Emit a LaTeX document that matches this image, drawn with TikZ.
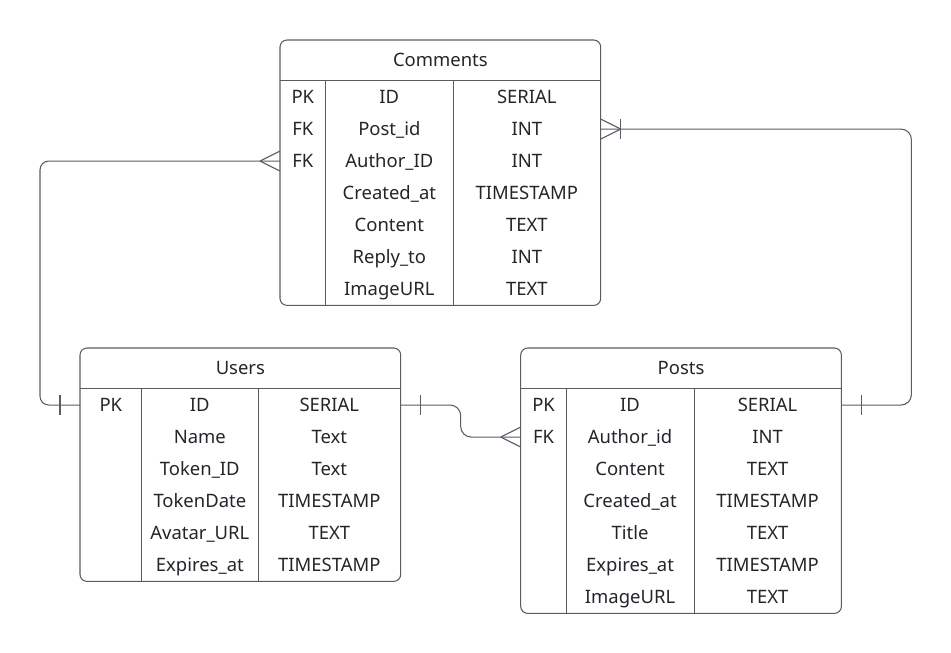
\documentclass[tikz,border=0pt]{standalone}
\usepackage{fontspec}
\setmainfont{Noto Sans}
\usetikzlibrary{positioning}
\usetikzlibrary{matrix}

\definecolor{linegray}{RGB}{88,92,99}
\definecolor{inkgray}{RGB}{34,37,42}

\begin{document}
\begin{tikzpicture}[
			entidad/.style={
				rectangle,
				minimum width=6.4cm,
				minimum height=0.8cm,
				inner sep=0pt,
				text height=7.5pt,
				text depth=0pt,
				text=inkgray,
				font=\fontsize{10.5}{12}\selectfont
			},
			campos/.style={
				matrix of nodes,
				nodes in empty cells,
				inner sep=0pt,
				row sep=0pt,
				column sep=0pt,
				nodes={
					rectangle,
					minimum height=0.64cm,
					inner sep=0pt,
					text height=7.5pt,
					text depth=0pt,
					anchor=center,
					text=inkgray,
					font=\fontsize{10.5}{12}\selectfont
				}
			},
			marco/.style={draw=linegray, line width=0.6pt, rounded corners=4pt},
			link/.style={draw=linegray, line width=0.6pt},
			crowfoot/.pic={\draw[link] (-0.4,0) -- (0,0.2) (-0.4,0) -- (0,-0.2);},
			onebar/.pic={\draw[link] (-0.4,-0.2) -- (-0.4,0.2);}
			]
			\useasboundingbox (0,0) rectangle (19.02,-13.04);
			
			% Tabla Comments
			\node[entidad, anchor=north west] (comments) at (5.6,-0.8) {Comments};
			\matrix[campos, below=0cm of comments,
				column 1/.style={nodes={minimum width=0.9cm}},
				column 2/.style={nodes={minimum width=2.56cm}},
				column 3/.style={nodes={minimum width=2.94cm}}] (ctab) {
				PK & ID & SERIAL \\
				FK & Post\_id & INT \\
				FK & Author\_ID & INT \\
				 & Created\_at & TIMESTAMP \\
				 & Content & TEXT \\
				 & Reply\_to & INT \\
				 & ImageURL & TEXT \\
			};
			
			% Tabla Users
			\node[entidad, anchor=north west] (users) at (1.6,-6.96) {Users};
			\matrix[campos, below=0cm of users,
				column 1/.style={nodes={minimum width=1.22cm}},
				column 2/.style={nodes={minimum width=2.34cm}},
				column 3/.style={nodes={minimum width=2.84cm}}] (utab) {
				PK & ID & SERIAL \\
				 & Name & Text \\
				 & Token\_ID & Text \\
				 & TokenDate & TIMESTAMP \\
				 & Avatar\_URL & TEXT \\
				 & Expires\_at & TIMESTAMP \\
			};
			
			% Tabla Posts
			\node[entidad, right=2.4cm of users] (posts) {Posts};
			\matrix[campos, below=0cm of posts,
				column 1/.style={nodes={minimum width=0.9cm}},
				column 2/.style={nodes={minimum width=2.56cm}},
				column 3/.style={nodes={minimum width=2.94cm}}] (ptab) {
				PK & ID & SERIAL \\
				FK & Author\_id & INT \\
				 & Content & TEXT \\
				 & Created\_at & TIMESTAMP \\
				 & Title & TEXT \\
				 & Expires\_at & TIMESTAMP \\
				 & ImageURL & TEXT \\
			};
			
			% Marcos y divisiones
			\draw[marco] (comments.north west) rectangle (ctab.south east);
			\draw[link] (comments.south west) -- (comments.south east);
			\draw[link] (ctab-1-1.north east) -- (ctab-7-1.south east);
			\draw[link] (ctab-1-2.north east) -- (ctab-7-2.south east);
			
			\draw[marco] (users.north west) rectangle (utab.south east);
			\draw[link] (users.south west) -- (users.south east);
			\draw[link] (utab-1-1.north east) -- (utab-6-1.south east);
			\draw[link] (utab-1-2.north east) -- (utab-6-2.south east);
			
			\draw[marco] (posts.north west) rectangle (ptab.south east);
			\draw[link] (posts.south west) -- (posts.south east);
			\draw[link] (ptab-1-1.north east) -- (ptab-7-1.south east);
			\draw[link] (ptab-1-2.north east) -- (ptab-7-2.south east);
			
			% Relaciones
			\draw[link, rounded corners=5pt] (utab-1-1.west) -- ++(-0.8,0) |- (ctab-3-1.west);
			\pic at (utab-1-1.west) {onebar};
			\pic at (ctab-3-1.west) {crowfoot};
			
			\draw[link, rounded corners=6pt] (utab-1-3.east) -- ++(1.2,0) |- (ptab-2-1.west);
			\pic[rotate=180] at (utab-1-3.east) {onebar};
			\pic at (ptab-2-1.west) {crowfoot};
			
			\draw[link, rounded corners=6pt] (ptab-1-3.east) -- ++(1.4,0) |- (ctab-2-3.east);
			\pic[rotate=180] at (ptab-1-3.east) {onebar};
			\pic[rotate=180] at (ctab-2-3.east) {crowfoot};
			\pic[rotate=180] at (ctab-2-3.east) {onebar};
			
		\end{tikzpicture}
\end{document}
